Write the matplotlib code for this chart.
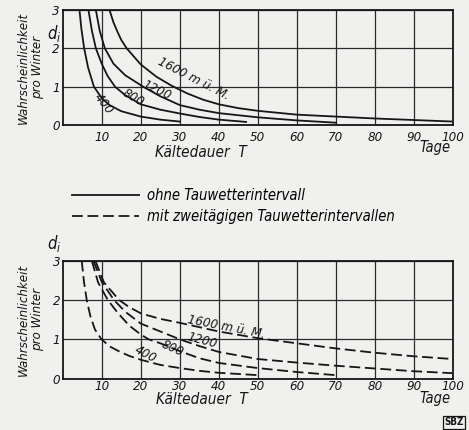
import matplotlib
matplotlib.use("Agg")
from matplotlib import pyplot as plt
from matplotlib.lines import Line2D

# ohne Tauwetterintervall (solid)
top_T_400 = [4.3, 4.8, 5.5, 6.5, 8, 10, 12, 15, 20, 25, 30]
top_d_400 = [3.0, 2.5, 2.0, 1.5, 1.0, 0.7, 0.52, 0.36, 0.22, 0.14, 0.09]
top_T_800 = [6.6, 7.5, 8.5, 10, 11.5, 13.4, 16, 20, 25, 30, 35, 40, 47]
top_d_800 = [3.0, 2.45, 2.0, 1.6, 1.28, 1.0, 0.78, 0.54, 0.4, 0.3, 0.21, 0.14, 0.08]
top_T_1200 = [8.5, 9.5, 10.8, 13, 16, 20.6, 25, 30, 35, 40, 50, 60, 70]
top_d_1200 = [3.0, 2.45, 2.0, 1.6, 1.3, 1.0, 0.75, 0.52, 0.4, 0.31, 0.2, 0.12, 0.06]
top_T_1600 = [12, 13, 14, 15, 16.4, 20, 24, 28, 32, 36, 40, 45, 50, 60, 70, 80, 90, 100]
top_d_1600 = [3.0, 2.68, 2.44, 2.22, 2.0, 1.58, 1.26, 1.02, 0.82, 0.66, 0.54, 0.44, 0.37, 0.27,
              0.22, 0.17, 0.13, 0.09]

# mit zweitaegigen Tauwetterintervallen (dashed)
bot_T_400 = [4.8, 5.4, 6.1, 7, 8.2, 9.9, 12, 14.5, 17, 20, 25, 30, 35, 40, 45, 50]
bot_d_400 = [3.0, 2.45, 2.0, 1.6, 1.25, 1.0, 0.82, 0.69, 0.58, 0.48, 0.35, 0.27, 0.2, 0.15, 0.12, 0.09]
bot_T_800 = [7.4, 9, 11.5, 14, 17, 20, 22, 25, 30, 35, 40, 50, 60, 70]
bot_d_800 = [3.0, 2.45, 2.0, 1.68, 1.35, 1.12, 1.0, 0.9, 0.7, 0.52, 0.4, 0.27, 0.17, 0.09]
bot_T_1200 = [7.8, 10, 13.1, 16, 20, 25, 30, 35, 40, 50, 60, 70, 80, 90, 100]
bot_d_1200 = [3.0, 2.45, 2.0, 1.7, 1.4, 1.2, 1.0, 0.83, 0.68, 0.5, 0.41, 0.33, 0.26, 0.19, 0.14]
bot_T_1600 = [8.3, 10.5, 14.4, 17, 20, 25, 30, 40, 50, 60, 70, 80, 90, 100]
bot_d_1600 = [3.0, 2.45, 2.0, 1.82, 1.66, 1.52, 1.42, 1.2, 1.03, 0.9, 0.77, 0.66, 0.57, 0.5]

x_ticks = [10, 20, 30, 40, 50, 60, 70, 80, 90, 100]
y_ticks = [0, 1, 2, 3]

# curve labels: text, T, d, rotation
top_labels = [("1600 m ü. M.", 33.5, 1.2, -27), ("1200", 24.0, 0.9, -25),
              ("800", 18.0, 0.72, -30), ("400", 10.4, 0.56, -52)]
bot_labels = [("1600 m ü. M.", 42.0, 1.32, -11), ("1200", 35.7, 0.96, -15),
              ("800", 28.0, 0.76, -24), ("400", 21.3, 0.62, -28)]

bg = "#f0f0ee"
ink = "#161616"
plt.rcParams["font.family"] = "DejaVu Sans"
plt.rcParams["font.style"] = "italic"
plt.rcParams["font.stretch"] = "condensed"

fig = plt.figure(figsize=(4.69, 4.30), dpi=100, facecolor=bg)
ax1 = fig.add_axes([0.1337, 0.7093, 0.832, 0.2674])
ax2 = fig.add_axes([0.1343, 0.1193, 0.831, 0.2744])

dash = (0, (6, 2.6))
ax1.plot(top_T_400, top_d_400, color=ink, lw=1.3)
ax1.plot(top_T_800, top_d_800, color=ink, lw=1.3)
ax1.plot(top_T_1200, top_d_1200, color=ink, lw=1.3)
ax1.plot(top_T_1600, top_d_1600, color=ink, lw=1.3)
ax2.plot(bot_T_400, bot_d_400, color=ink, lw=1.3, ls=dash)
ax2.plot(bot_T_800, bot_d_800, color=ink, lw=1.3, ls=dash)
ax2.plot(bot_T_1200, bot_d_1200, color=ink, lw=1.3, ls=dash)
ax2.plot(bot_T_1600, bot_d_1600, color=ink, lw=1.3, ls=dash)

for ax, labels, tpad in [(ax1, top_labels, 4), (ax2, bot_labels, 1)]:
    ax.set_facecolor(bg)
    ax.set_xlim(0, 100)
    ax.set_ylim(0, 3)
    ax.set_xticks(x_ticks)
    ax.set_yticks(y_ticks)
    ax.grid(True, color="#2a2a2a", lw=0.9)
    ax.tick_params(length=0, labelsize=9.5, colors=ink)
    ax.tick_params(axis="x", pad=tpad)
    ax.tick_params(axis="y", pad=2)
    for s in ax.spines.values():
        s.set_linewidth(1.3)
        s.set_color(ink)
    for txt, t, d, rot in labels:
        ax.text(t, d, txt, rotation=rot, ha="center", va="center",
                fontsize=9.5, color=ink, rotation_mode="anchor")
    ax.set_ylabel("Wahrscheinlichkeit\npro Winter", fontsize=9.5, color=ink,
                  linespacing=1.1)
    ax.yaxis.set_label_coords(-0.048, 0.5)

ax1.text(-0.022, 0.8, r"$d_i$", transform=ax1.transAxes, ha="center", va="center",
         fontsize=12, color=ink)
ax2.text(-0.022, 1.145, r"$d_i$", transform=ax2.transAxes, ha="center", va="center",
         fontsize=12, color=ink)

ax1.text(0.355, -0.235, "Kältedauer  T", transform=ax1.transAxes, ha="center",
         va="center", fontsize=11, color=ink)
ax2.text(0.357, -0.178, "Kältedauer  T", transform=ax2.transAxes, ha="center",
         va="center", fontsize=11, color=ink)
ax1.text(0.995, -0.2, "Tage", transform=ax1.transAxes, ha="right",
         va="center", fontsize=10.5, color=ink)
ax2.text(0.995, -0.165, "Tage", transform=ax2.transAxes, ha="right",
         va="center", fontsize=10.5, color=ink)

handles = [Line2D([], [], color=ink, lw=1.3),
           Line2D([], [], color=ink, lw=1.3, ls=dash)]
fig.legend(handles, ["ohne Tauwetterintervall", "mit zweitägigen Tauwetterintervallen"],
           loc="upper left", bbox_to_anchor=(0.153, 0.562), frameon=False,
           fontsize=10.6, handlelength=4.6, handletextpad=0.5, labelspacing=0.4,
           borderpad=0, borderaxespad=0)

fig.text(0.968, 0.018, "SBZ", ha="center", va="center", fontsize=7, weight="bold",
         style="normal", color=ink,
         bbox=dict(boxstyle="square,pad=0.15", fc=bg, ec=ink, lw=0.9))

fig.savefig("out.png", dpi=100, facecolor=bg)
